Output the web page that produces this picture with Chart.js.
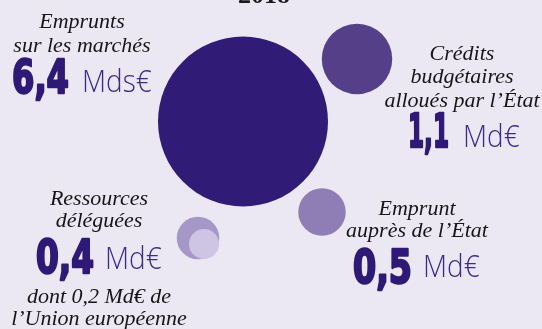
<!DOCTYPE html>
<html lang="fr">
<head>
    <meta charset="UTF-8">
    <title>Ressources 2018</title>
    <style>
        body {
            margin: 0;
            padding: 0;
            background-color: #ebe8f4;
        }
        #wrap {
            width: 542px;
            height: 329px;
        }
    </style>
</head>
<body>
    <div id="wrap">
        <canvas id="bubbleChart" width="542" height="329"></canvas>
    </div>

    <script src="https://cdn.jsdelivr.net/npm/chart.js"></script>
    <script>
        // data (Md€)
        const title = '2018';
        const categories = ['Emprunts sur les marchés', 'Crédits budgétaires alloués par l’État', 'Emprunt auprès de l’État', 'Ressources déléguées', 'dont Union européenne'];
        const amounts = [6.4, 1.1, 0.5, 0.4, 0.2];
        const amountLabels = ['6,4', '1,1', '0,5', '0,4'];
        const units = ['Mds€', 'Md€', 'Md€', 'Md€'];

        // where each bubble sits (hidden linear scales, 1 unit = 1 px)
        const bubbleX = [243, 357, 322, 198, 204];
        const bubbleY = [121.5, 59, 212, 238, 244];
        const colors = ['#301c77', '#553f88', '#8f7db6', '#a597c8', '#cdc5e3'];

        // text blocks next to the bubbles
        const blocks = [
            { cx: 82, lines: ['Emprunts', 'sur les marchés'], base: [28, 52], num: [11, 94, 59], unit: [82, 92], after: [] },
            { cx: 462, lines: ['Crédits', 'budgétaires', 'alloués par l’État'], base: [60, 83, 107], num: [407, 148, 43], unit: [463, 147], after: [] },
            { cx: 417, lines: ['Emprunt', 'auprès de l’État'], base: [215, 237], num: [352, 284, 61], unit: [423, 277], after: [] },
            { cx: 99, lines: ['Ressources', 'déléguées'], base: [205, 227], num: [35, 274, 60], unit: [105, 269], after: [['dont 0,2 Md€ de', 303], ['l’Union européenne', 325]] }
        ];

        const maxR = 85;
        const k = maxR / Math.sqrt(amounts[0]);

        const points = amounts.map((v, i) => ({ x: bubbleX[i], y: bubbleY[i], r: Math.sqrt(v) * k }));

        const labelsPlugin = {
            id: 'labels',
            afterDraw(chart) {
                const ctx = chart.ctx;
                ctx.save();
                ctx.textBaseline = 'alphabetic';

                // title, mostly cut off at the top
                ctx.fillStyle = '#1a1a1a';
                ctx.font = 'bold 26px "Liberation Serif"';
                ctx.textAlign = 'center';
                ctx.fillText(title, 264, 3);

                blocks.forEach((b, i) => {
                    ctx.fillStyle = '#161616';
                    ctx.font = 'italic 22px "Liberation Serif"';
                    ctx.textAlign = 'center';
                    b.lines.forEach((t, j) => ctx.fillText(t, b.cx, b.base[j]));
                    b.after.forEach(a => ctx.fillText(a[0], b.cx, a[1]));

                    // big number, squeezed to look condensed
                    ctx.textAlign = 'left';
                    ctx.font = 'bold 46px "DejaVu Sans"';
                    ctx.fillStyle = '#2e1a76';
                    ctx.strokeStyle = '#2e1a76';
                    ctx.lineWidth = 2.5;
                    ctx.lineJoin = 'round';
                    const w = ctx.measureText(amountLabels[i]).width;
                    const sx = (b.num[2] - 2) / w;
                    ctx.save();
                    ctx.translate(b.num[0] + 1, b.num[1] - 1);
                    ctx.scale(sx, 1);
                    ctx.fillText(amountLabels[i], 0, 0);
                    ctx.strokeText(amountLabels[i], 0, 0);
                    ctx.restore();

                    // unit, a touch narrower than Open Sans
                    ctx.font = '300 31px "Open Sans"';
                    ctx.fillStyle = '#3d2b8c';
                    ctx.save();
                    ctx.translate(b.unit[0], b.unit[1]);
                    ctx.scale(0.9, 1);
                    ctx.fillText(units[i], 0, 0);
                    ctx.restore();
                });
                ctx.restore();
            }
        };

        new Chart(document.getElementById('bubbleChart'), {
            type: 'bubble',
            data: {
                labels: categories,
                datasets: [{
                    label: 'Ressources (Md€)',
                    data: points,
                    backgroundColor: colors,
                    borderWidth: 0,
                    hoverBorderWidth: 0,
                    clip: false
                }]
            },
            options: {
                responsive: false,
                animation: false,
                events: [],
                layout: { padding: 0, autoPadding: false },
                plugins: {
                    legend: { display: false },
                    tooltip: { enabled: false }
                },
                scales: {
                    x: { type: 'linear', min: 0, max: 542, display: false },
                    y: { type: 'linear', min: 0, max: 329, reverse: true, display: false }
                }
            },
            plugins: [labelsPlugin]
        });
    </script>
</body>
</html>
